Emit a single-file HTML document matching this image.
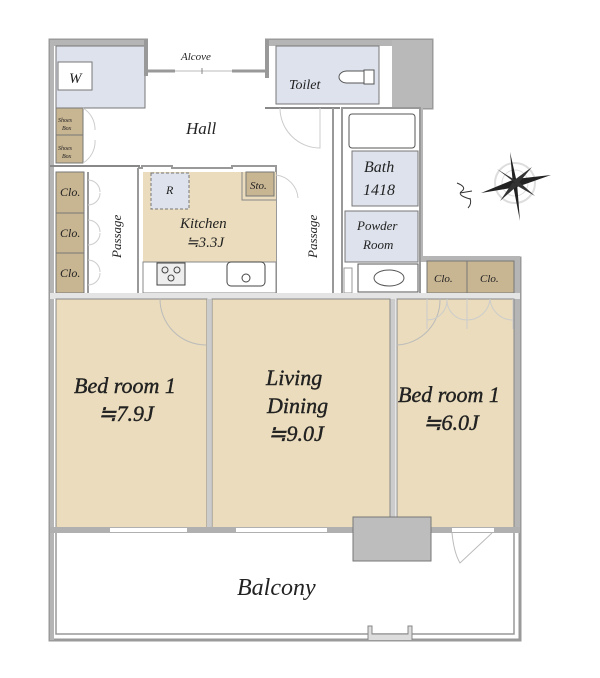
<!DOCTYPE html>
<html><head><meta charset="utf-8"><style>
html,body{margin:0;padding:0;background:#fff;}
svg{display:block;}
text{font-family:"Liberation Serif",serif;font-style:italic;fill:#222;}
</style></head><body>
<svg width="600" height="678" viewBox="0 0 600 678" xmlns="http://www.w3.org/2000/svg">
<path d="M148 40 H50 V640 H520 V258 H420 V108 H432 V40 H265" fill="none" stroke="#9a9a9a" stroke-width="3"/>
<rect x="50" y="40" width="4" height="600" fill="#b5b5b5"/>
<rect x="50" y="40" width="98" height="6" fill="#b5b5b5"/>
<rect x="265" y="40" width="167" height="6" fill="#b5b5b5"/>
<rect x="392" y="40" width="40" height="68" fill="#b9b9b9"/>
<rect x="514" y="258" width="6" height="275" fill="#b5b5b5"/>
<rect x="420" y="256" width="100" height="6" fill="#b5b5b5"/>
<rect x="418" y="108" width="5" height="152" fill="#b5b5b5"/>
<rect x="56" y="46" width="89" height="62" fill="#dde2ec" stroke="#777" stroke-width="1"/>
<rect x="144" y="40" width="4" height="36" fill="#999"/>
<rect x="58" y="62" width="34" height="28" fill="#fff" stroke="#777"/>
<text x="69" y="83" font-size="15">W</text>
<line x1="148" y1="71" x2="175" y2="71" stroke="#999" stroke-width="3"/>
<line x1="175" y1="71" x2="232" y2="71" stroke="#bbb" stroke-width="1"/>
<line x1="232" y1="71" x2="265" y2="71" stroke="#999" stroke-width="3"/>
<line x1="202" y1="68" x2="202" y2="74" stroke="#888"/>
<text x="181" y="60" font-size="11">Alcove</text>
<rect x="265" y="40" width="4" height="38" fill="#999"/>
<rect x="276" y="46" width="103" height="58" fill="#dde2ec" stroke="#777"/>
<text x="289" y="89" font-size="14">Toilet</text>
<path d="M347 71 h18 v12 h-18 a8 6 0 0 1 0 -12z" fill="#fff" stroke="#555"/>
<rect x="364" y="70" width="10" height="14" fill="#fff" stroke="#555"/>
<line x1="265" y1="108" x2="340" y2="108" stroke="#888" stroke-width="2"/>
<path d="M280 108 A40 40 0 0 0 320 148 L320 108" fill="none" stroke="#ccc"/>
<text x="186" y="134" font-size="17">Hall</text>
<rect x="56" y="108" width="27" height="27" fill="#c8b592" stroke="#777"/>
<rect x="56" y="135" width="27" height="28" fill="#c8b592" stroke="#777"/>
<text x="58" y="122" font-size="6">Shoes</text><text x="62" y="130" font-size="6">Box</text>
<text x="58" y="150" font-size="6">Shoes</text><text x="62" y="158" font-size="6">Box</text>
<path d="M83 108 A25 25 0 0 1 95 130 M83 163 A25 25 0 0 0 95 140" fill="none" stroke="#ccc"/>
<line x1="50" y1="166" x2="140" y2="166" stroke="#888" stroke-width="2"/>
<rect x="56" y="172" width="28" height="41" fill="#c8b592" stroke="#777"/>
<rect x="56" y="213" width="28" height="40" fill="#c8b592" stroke="#777"/>
<rect x="56" y="253" width="28" height="40" fill="#c8b592" stroke="#777"/>
<text x="60" y="196" font-size="12">Clo.</text>
<text x="60" y="237" font-size="12">Clo.</text>
<text x="60" y="277" font-size="12">Clo.</text>
<line x1="88" y1="172" x2="88" y2="293" stroke="#999" stroke-width="2"/>
<path d="M88 180 a12 12 0 0 1 12 12 M88 205 a12 12 0 0 0 12 -12 M88 220 a12 12 0 0 1 12 12 M88 245 a12 12 0 0 0 12 -12 M88 260 a12 12 0 0 1 12 12 M88 285 a12 12 0 0 0 12 -12" fill="none" stroke="#ccc"/>
<text font-size="13" transform="translate(121 258) rotate(-90)">Passage</text>
<path d="M138 168 V298 M138 168 H142 V166 H172 V168 H232 V166 H276 V300" fill="none" stroke="#999" stroke-width="2"/>
<rect x="143" y="172" width="133" height="90" fill="#eadcbc"/>
<rect x="143" y="262" width="133" height="31" fill="#fff" stroke="#888"/>
<rect x="246" y="172" width="28" height="24" fill="#c8b592" stroke="#777"/>
<path d="M242 172 V200 H276" fill="none" stroke="#888"/>
<text x="250" y="189" font-size="11">Sto.</text>
<rect x="151" y="173" width="38" height="36" fill="#dde2ec" stroke="#777" stroke-dasharray="3,2"/>
<text x="166" y="194" font-size="12">R</text>
<text x="180" y="228" font-size="15">Kitchen</text>
<text x="186" y="247" font-size="15">≒3.3J</text>
<rect x="157" y="263" width="28" height="22" fill="#eee" stroke="#444"/>
<circle cx="165" cy="270" r="3" fill="none" stroke="#444"/><circle cx="177" cy="270" r="3" fill="none" stroke="#444"/><circle cx="171" cy="278" r="3" fill="none" stroke="#444"/>
<rect x="227" y="262" width="38" height="24" rx="4" fill="#fff" stroke="#444"/>
<circle cx="246" cy="278" r="4" fill="none" stroke="#444"/>
<path d="M276 175 A25 25 0 0 1 298 198" fill="none" stroke="#ccc"/>
<text font-size="13" transform="translate(317 258) rotate(-90)">Passage</text>
<line x1="333" y1="108" x2="333" y2="298" stroke="#999" stroke-width="2"/>
<rect x="342" y="108" width="78" height="190" fill="#fff" stroke="#999" stroke-width="2"/>
<rect x="349" y="114" width="66" height="34" rx="3" fill="#fff" stroke="#555"/>
<rect x="352" y="151" width="66" height="55" fill="#dde2ec" stroke="#777"/>
<text x="364" y="172" font-size="16">Bath</text>
<text x="363" y="195" font-size="16">1418</text>
<rect x="345" y="211" width="73" height="51" fill="#dde2ec" stroke="#777"/>
<text x="357" y="230" font-size="13">Powder</text>
<text x="363" y="249" font-size="13">Room</text>
<rect x="358" y="264" width="60" height="28" fill="#fff" stroke="#555"/>
<ellipse cx="389" cy="278" rx="15" ry="8" fill="#fff" stroke="#555"/>
<rect x="344" y="268" width="8" height="25" fill="#fff" stroke="#999"/>
<rect x="427" y="261" width="40" height="32" fill="#c8b592" stroke="#777"/>
<rect x="467" y="261" width="47" height="32" fill="#c8b592" stroke="#777"/>
<text x="434" y="282" font-size="11">Clo.</text>
<text x="480" y="282" font-size="11">Clo.</text>
<rect x="50" y="293" width="470" height="6" fill="#e4e4e4"/>
<rect x="56" y="299" width="151" height="229" fill="#eadcbc" stroke="#888"/>
<rect x="212" y="299" width="178" height="229" fill="#eadcbc" stroke="#888"/>
<rect x="397" y="299" width="117" height="229" fill="#eadcbc" stroke="#888"/>
<line x1="209" y1="299" x2="209" y2="528" stroke="#ccc" stroke-width="4"/>
<line x1="393" y1="299" x2="393" y2="528" stroke="#ccc" stroke-width="5"/>
<path d="M160 299 A46 46 0 0 0 206 345" fill="none" stroke="#bbb"/>
<path d="M397 345 A45 45 0 0 0 440 299" fill="none" stroke="#bbb"/>
<path d="M427 299 v30 M467 299 v30 M513 299 v30 M427 320 a20 20 0 0 0 20 -21 M467 320 a20 20 0 0 1 -20 -21 M467 320 a23 23 0 0 0 23 -21 M513 320 a23 23 0 0 1 -23 -21" fill="none" stroke="#ccc"/>
<text x="74" y="393" font-size="22" stroke="#222" stroke-width="0.4">Bed room 1</text>
<text x="98" y="421" font-size="22" stroke="#222" stroke-width="0.4">≒7.9J</text>
<text x="266" y="385" font-size="22" stroke="#222" stroke-width="0.4">Living</text>
<text x="267" y="413" font-size="22" stroke="#222" stroke-width="0.4">Dining</text>
<text x="268" y="441" font-size="22" stroke="#222" stroke-width="0.4">≒9.0J</text>
<text x="398" y="402" font-size="22" stroke="#222" stroke-width="0.4">Bed room 1</text>
<text x="423" y="430" font-size="22" stroke="#222" stroke-width="0.4">≒6.0J</text>
<rect x="50" y="527" width="470" height="6" fill="#b0b0b0"/>
<rect x="110" y="528" width="77" height="4" fill="#fff"/>
<rect x="236" y="528" width="91" height="4" fill="#fff"/>
<rect x="452" y="528" width="42" height="4" fill="#fff"/>
<rect x="353" y="517" width="78" height="44" fill="#bdbdbd" stroke="#777"/>
<path d="M452 533 q2 20 8 30 L492 533" fill="none" stroke="#bbb"/>
<path d="M56 533 V634 H514 V533" fill="none" stroke="#999" stroke-width="1.5"/>
<text x="237" y="595" font-size="24">Balcony</text>
<path d="M368 640 V626 H372 V634 H408 V626 H412 V640" fill="#ddd" stroke="#888"/>
<g transform="translate(515 183)">
<circle r="20" fill="none" stroke="#ddd" stroke-width="2"/>
<circle r="13" fill="none" stroke="#ddd"/>
<polygon points="-34,10 0,-4 36,-8 2,4" fill="#222"/>
<polygon points="-5,-31 2,0 5,38 -2,2" fill="#222"/>
<polygon points="-18,-14 0,-3 3,2" fill="#333"/>
<polygon points="17,-16 2,2 -2,-2" fill="#333"/>
<polygon points="-15,18 -2,-1 2,3" fill="#333"/>
<polygon points="20,13 -1,1 2,-3" fill="#333"/>
</g>
<path d="M457 183 q10 4 5 8 q-6 4 8 8 M460 193 l12 -2 M470 198 q2 6 -2 10" fill="none" stroke="#333" stroke-width="1"/>
</svg>
</body></html>
